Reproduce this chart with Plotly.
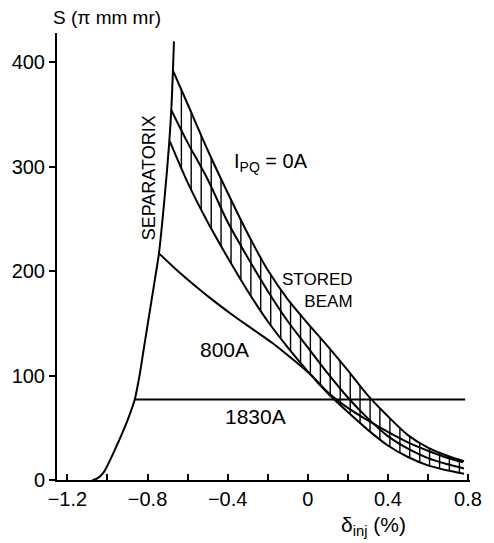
import numpy as np
import plotly.graph_objects as go

# ---- data ----
sep_x = [-1.075, -1.05, -1.02, -1.0, -0.97, -0.937, -0.9, -0.864, -0.84, -0.82, -0.8, -0.78, -0.76, -0.743, -0.715, -0.692, -0.68, -0.668]
sep_y = [0, 1.5, 7, 14, 26, 40, 57, 77, 100, 124, 148, 172, 196, 217, 270, 322, 360, 420]

u_x = [-0.673, -0.6, -0.5, -0.4, -0.3, -0.2, -0.1, 0.0, 0.1, 0.2, 0.3, 0.4, 0.5, 0.6, 0.7, 0.78]
u_y = [392, 360, 316, 275, 236, 201, 173, 150, 128, 105, 81, 61, 43, 31, 23, 18]

m_x = [-0.681, -0.6, -0.5, -0.4, -0.3, -0.2, -0.1, 0.0, 0.1, 0.2, 0.3, 0.4, 0.5, 0.6, 0.7, 0.78]
m_y = [354, 323, 288, 247, 213, 181, 152, 127, 102, 79, 59, 42, 30, 21, 15, 11]

l_x = [-0.688, -0.6, -0.5, -0.4, -0.3, -0.2, -0.1, 0.0, 0.1, 0.2, 0.3, 0.4, 0.5, 0.6, 0.7, 0.78]
l_y = [324, 285, 247, 213, 181, 152, 127, 104, 83, 65, 48, 33, 22, 14, 9, 6]

a800_x = [-0.743, -0.66, -0.563, -0.466, -0.369, -0.272, -0.175, -0.078, 0.019, 0.1, 0.2, 0.3, 0.4, 0.5, 0.6, 0.7, 0.775]
a800_y = [217, 202, 186, 171, 157, 144, 131, 116, 100, 84, 69, 57, 46, 36, 28, 21, 17]

a1830_x = [-0.864, 0.786]
a1830_y = [77, 77]

hatch_x = [-0.631, -0.582, -0.532, -0.482, -0.433, -0.383, -0.334, -0.284, -0.235, -0.185,
           -0.135, -0.086, -0.036, 0.013, 0.063, 0.112, 0.162, 0.212, 0.261, 0.311,
           0.360, 0.410, 0.460, 0.509, 0.559, 0.608, 0.658, 0.707, 0.757]

x_tickvals = [-1.2, -0.8, -0.4, 0, 0.4, 0.8]
x_ticktext = ["\u22121.2", "\u22120.8", "\u22120.4", "0", "0.4", "0.8"]
y_tickvals = [0, 100, 200, 300, 400]
y_ticktext = ["0", "100", "200", "300", "400"]

FONT = "Liberation Sans"
W, H = 494, 543
ML, MR, MT, MB = 48, 21, 33, 63
fig = go.Figure()


def curve(x, y, w=2.0, shape="spline"):
    fig.add_trace(go.Scatter(x=x, y=y, mode="lines",
                             line=dict(color="black", width=w, shape=shape, smoothing=0.8),
                             hoverinfo="skip", showlegend=False))


# hatching between upper and lower 0A curves
hu = np.interp(hatch_x, u_x, u_y)
hl = np.interp(hatch_x, l_x, l_y)
hx, hy = [], []
for xv, a, b in zip(hatch_x, hu, hl):
    hx += [xv, xv, None]
    hy += [a, b, None]
fig.add_trace(go.Scatter(x=hx, y=hy, mode="lines", line=dict(color="black", width=1.4),
                         hoverinfo="skip", showlegend=False))

curve(sep_x, sep_y)
curve(u_x, u_y)
curve(m_x, m_y)
curve(l_x, l_y)
curve(a800_x, a800_y)
curve(a1830_x, a1830_y, shape="linear")

fig.update_layout(
    width=W, height=H,
    margin=dict(l=ML, r=MR, t=MT, b=MB),
    paper_bgcolor="white", plot_bgcolor="white",
    font=dict(family=FONT, size=20, color="black"),
    xaxis=dict(range=[-1.252, 0.81], showgrid=False, zeroline=False,
               showline=True, linecolor="black", linewidth=2,
               tickmode="array", tickvals=x_tickvals, ticktext=x_ticktext,
               ticks="inside", ticklen=6, tickwidth=1.5, tickcolor="black",
               minor=dict(tickmode="linear", tick0=-1.2, dtick=0.2, ticks="inside",
                          ticklen=6, tickwidth=1.5, tickcolor="black", showgrid=False),
               tickfont=dict(size=20, family=FONT)),
    yaxis=dict(range=[0, 428], showgrid=False, zeroline=False,
               showline=True, linecolor="black", linewidth=2,
               tickmode="array", tickvals=y_tickvals, ticktext=y_ticktext,
               ticks="outside", ticklen=6, tickwidth=1.5, tickcolor="black",
               tickfont=dict(size=20, family=FONT)),
)

PW, PH = W - ML - MR, H - MT - MB


def px_ann(text, px, py, size=20, angle=0, xanchor="center", align="center"):
    fig.add_annotation(text=text, x=(px - ML) / PW, y=(H - MB - py) / PH,
                       xref="paper", yref="paper",
                       showarrow=False, textangle=angle, xanchor=xanchor, yanchor="middle",
                       align=align, font=dict(size=size, family=FONT, color="black"))


px_ann("S (\u03c0 mm mr)", 99, 18, size=19)
px_ann("\u03b4<sub>inj</sub> (%)", 374, 526, size=21)
px_ann("SEPARATORIX", 143, 178, size=18, angle=-90)
px_ann("I<sub>PQ</sub> = 0A", 268, 162, size=20)
px_ann("STORED<br>BEAM", 355, 290, size=17, xanchor="right", align="right")
px_ann("800A", 220, 349, size=21)
px_ann("1830A", 252, 416, size=21)

fig.write_html("out.html")
